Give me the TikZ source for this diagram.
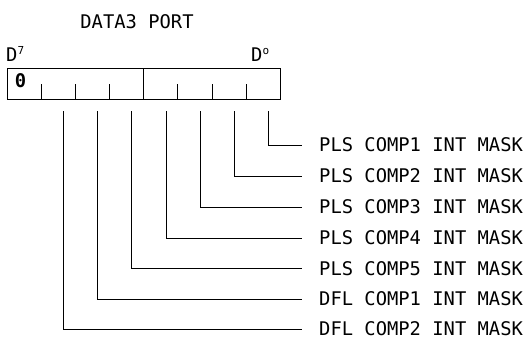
\documentclass[tikz,border=0pt]{standalone}
\usepackage{fontspec}
\newfontfamily\regfont{DejaVu Sans Mono}
\begin{document}
\begin{tikzpicture}[x=1pt,y=-1pt,
  txt/.style={font=\regfont\fontsize{18.8}{20}\selectfont, inner sep=0pt},
  lab/.style={txt, anchor=west, inner xsep=17pt, inner ysep=0pt},
  wire/.style={line width=1pt},
  frame/.style={line width=1.2pt},
  tick/.style={line width=1pt}]
\useasboundingbox (0,0) rectangle (527,338);
% title
\node[txt] (title) at (137,21.5) {DATA3 PORT};
\node[txt, anchor=base west] (d7) at (6,61) {D\raisebox{7pt}{\fontsize{11}{11}\selectfont 7}};
\node[txt, anchor=base west] (d0) at (251,61) {D\raisebox{7pt}{\fontsize{11}{11}\selectfont o}};
% register
\node[draw, frame, minimum width=273pt, minimum height=31pt, inner sep=0pt, anchor=north west] (reg) at (7,68) {};
\draw[frame] (143.5,68) -- (143.5,99);
\foreach \x in {41,75,109,177,212,246} \draw[tick] (\x,84) -- (\x,99);
\node[txt, font=\regfont\bfseries\fontsize{18.8}{20}\selectfont] (zero) at (20.5,80.5) {0};
% bit coordinates
\coordinate (b0) at (268,111);
\coordinate (b1) at (234,111);
\coordinate (b2) at (200,111);
\coordinate (b3) at (166,111);
\coordinate (b4) at (131,111);
\coordinate (b5) at (97,111);
\coordinate (b6) at (63,111);
% labels
\node[lab] (l0) at (302,145) {PLS COMP1 INT MASK};
\node[lab] (l1) at (302,176) {PLS COMP2 INT MASK};
\node[lab] (l2) at (302,207) {PLS COMP3 INT MASK};
\node[lab] (l3) at (302,238) {PLS COMP4 INT MASK};
\node[lab] (l4) at (302,268.5) {PLS COMP5 INT MASK};
\node[lab] (l5) at (302,299) {DFL COMP1 INT MASK};
\node[lab] (l6) at (302,329) {DFL COMP2 INT MASK};
\foreach \i in {0,...,6} \draw[wire] (b\i) |- (l\i.west);
\end{tikzpicture}
\end{document}
